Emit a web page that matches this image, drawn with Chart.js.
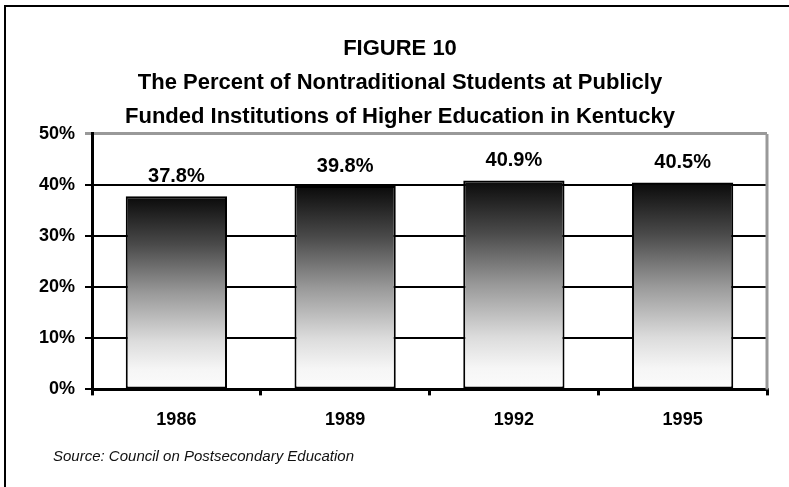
<!DOCTYPE html>
<html>
<head>
<meta charset="utf-8">
<script src="https://cdn.jsdelivr.net/npm/chart.js@4"></script>
<style>
  html, body { margin: 0; padding: 0; background: #fff; }
  #wrap { width: 789px; height: 487px; position: relative; }
</style>
</head>
<body>
<div id="wrap"><canvas id="chart"></canvas></div>
<script>
const years = ['1986', '1989', '1992', '1995'];
const percents = [37.8, 39.8, 40.9, 40.5];
const titleLines = [
  'FIGURE 10',
  'The Percent of Nontraditional Students at Publicly',
  'Funded Institutions of Higher Education in Kentucky'
];
const sourceNote = 'Source: Council on Postsecondary Education';

const FONT = "'Liberation Sans', Arial, sans-serif";

// frame, gray plot border, data labels and source line
const extras = {
  id: 'extras',
  beforeDatasetsDraw(chart) {
    const { ctx, chartArea } = chart;
    ctx.save();
    ctx.strokeStyle = '#999';
    ctx.lineWidth = 3;
    ctx.beginPath();
    ctx.moveTo(chartArea.right, chartArea.top);
    ctx.lineTo(chartArea.right, chartArea.bottom);
    ctx.stroke();
    ctx.restore();
  },
  afterDatasetsDraw(chart) {
    const { ctx } = chart;
    const meta = chart.getDatasetMeta(0);
    ctx.save();
    ctx.fillStyle = '#000';
    ctx.font = 'bold 20px ' + FONT;
    ctx.textAlign = 'center';
    ctx.textBaseline = 'middle';
    meta.data.forEach((bar, i) => {
      ctx.fillText(percents[i].toFixed(1) + '%', bar.x, bar.y - 20);
    });
    ctx.restore();
  },
  afterDraw(chart) {
    const { ctx } = chart;
    ctx.save();
    ctx.strokeStyle = '#000';
    ctx.lineWidth = 2;
    ctx.beginPath();
    ctx.moveTo(5, 500);
    ctx.lineTo(5, 6);
    ctx.lineTo(800, 6);
    ctx.stroke();
    ctx.fillStyle = '#111';
    ctx.font = 'italic 15px ' + FONT;
    ctx.textBaseline = 'middle';
    ctx.fillText(sourceNote, 53, 457);
    ctx.restore();
  }
};

function barGradient(context) {
  const chart = context.chart;
  if (!chart.chartArea || !chart.scales.y) return '#444';
  const y = chart.scales.y;
  const top = y.getPixelForValue(context.raw);
  const bottom = y.getPixelForValue(0);
  const g = chart.ctx.createLinearGradient(0, top, 0, bottom);
  g.addColorStop(0, '#0a0a0a');
  g.addColorStop(0.25, '#4a4a4a');
  g.addColorStop(0.5, '#999999');
  g.addColorStop(0.75, '#dcdcdc');
  g.addColorStop(0.9, '#f6f6f6');
  g.addColorStop(1, '#fbfbfb');
  return g;
}

new Chart(document.getElementById('chart'), {
  type: 'bar',
  data: {
    labels: years,
    datasets: [{
      data: percents,
      backgroundColor: barGradient,
      borderColor: '#000',
      borderWidth: 2,
      borderSkipped: false,
      barPercentage: 1,
      categoryPercentage: 0.6
    }]
  },
  plugins: [extras],
  options: {
    responsive: true,
    maintainAspectRatio: false,
    animation: false,
    layout: { padding: { left: 33, right: 22, top: 0, bottom: 42 } },
    plugins: {
      legend: { display: false },
      tooltip: { enabled: false },
      title: {
        display: true,
        text: titleLines,
        color: '#000',
        font: { family: FONT, size: 22, weight: 'bold', lineHeight: 1.545 },
        padding: { top: 32, bottom: 0 }
      }
    },
    scales: {
      x: {
        offset: true,
        grid: {
          offset: true,
          drawOnChartArea: false,
          drawTicks: true,
          tickLength: 6,
          color: '#000',
          lineWidth: 3
        },
        border: { color: '#000', width: 3 },
        ticks: {
          color: '#000',
          padding: 14,
          font: { family: FONT, size: 18, weight: 'bold' }
        }
      },
      y: {
        min: 0,
        max: 50,
        afterFit(scale) { scale.width = 59; },
        grid: {
          color: (ctx) => (ctx.tick && ctx.tick.value === 50 ? '#999' : '#000'),
          lineWidth: (ctx) => (ctx.tick && ctx.tick.value === 50 ? 3 : 2),
          drawTicks: true,
          tickLength: 7
        },
        border: { color: '#000', width: 3 },
        ticks: {
          stepSize: 10,
          color: '#000',
          padding: 10,
          font: { family: FONT, size: 18, weight: 'bold' },
          callback: (v) => v + '%'
        }
      }
    }
  }
});
</script>
</body>
</html>
